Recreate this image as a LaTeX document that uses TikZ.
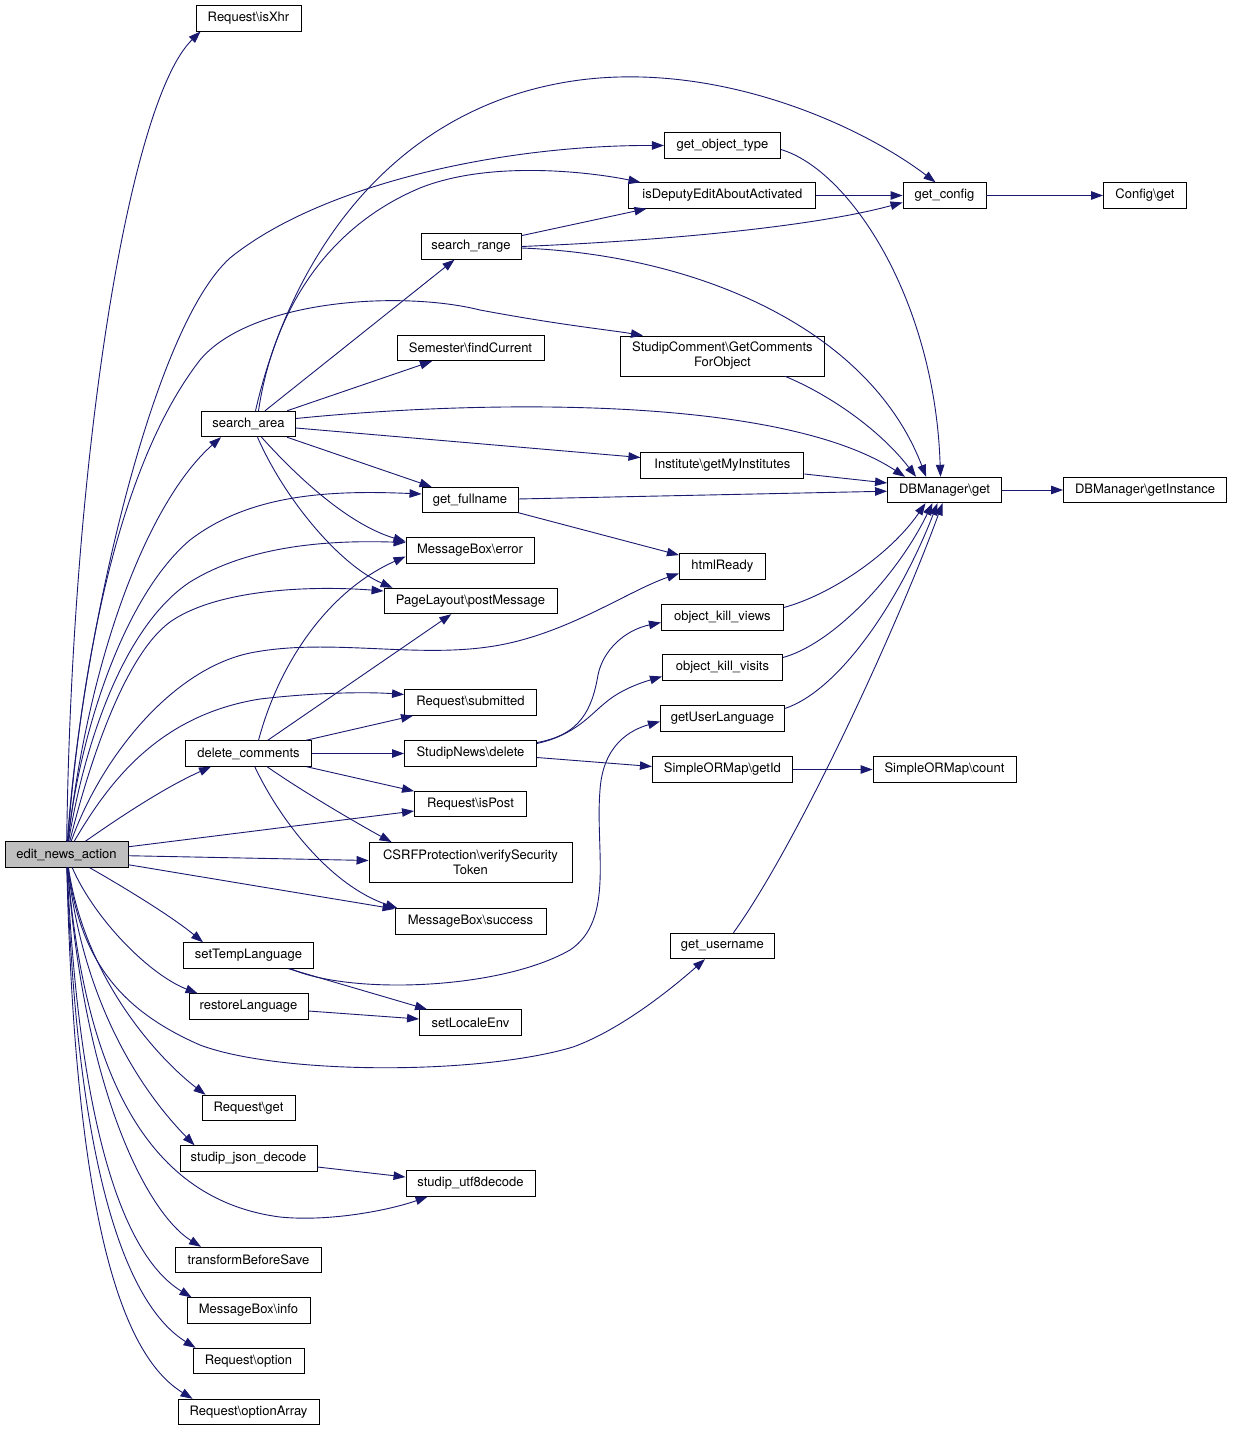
\documentclass[tikz,border=0pt]{standalone}
\usepackage{fontspec}
\setmainfont{TeX Gyre Heros}
\usetikzlibrary{arrows.meta}
\definecolor{edgeblue}{HTML}{191970}
\definecolor{nodegray}{HTML}{BFBFBF}
\begin{document}
\begin{tikzpicture}[x=1pt,y=-1pt,
  fn/.style={draw=black, line width=0.9pt, fill=white, inner sep=0pt,
    minimum height=25.5pt, font=\fontsize{13}{15}\selectfont, align=center},
  call/.style={draw=edgeblue, line width=0.9pt, -{Triangle[length=12pt,width=8.5pt]}},
]
\fill[white] (0,0) rectangle (1232,1431);
\useasboundingbox (0,0) rectangle (1232,1431);

% rank 1
\node[fn, fill=nodegray, minimum width=123pt] (E) at (66.5,854.5) {edit\_news\_action};
% rank 2
\node[fn, minimum width=105pt] (isXhr) at (248.5,18.3) {Request\textbackslash isXhr};
\node[fn, minimum width=94pt]  (S)   at (248.5,424) {search\_area};
\node[fn, minimum width=126pt] (D)   at (248.5,753.5) {delete\_comments};
\node[fn, minimum width=130pt] (ST)  at (248.5,955.5) {setTempLanguage};
\node[fn, minimum width=119pt] (RL)  at (248.5,1006.5) {restoreLanguage};
\node[fn, minimum width=93pt]  (RG)  at (248.5,1108) {Request\textbackslash get};
\node[fn, minimum width=137pt] (JD)  at (248.5,1158.5) {studip\_json\_decode};
\node[fn, minimum width=146pt] (TB)  at (248.5,1260) {transformBeforeSave};
\node[fn, minimum width=123pt] (MI)  at (248.5,1310.5) {MessageBox\textbackslash info};
\node[fn, minimum width=111pt] (RO)  at (248.5,1361) {Request\textbackslash option};
\node[fn, minimum width=141pt] (ROA) at (248.5,1412) {Request\textbackslash optionArray};
% rank 3
\node[fn, minimum width=100pt] (SR)   at (471,246.5) {search\_range};
\node[fn, minimum width=147pt] (SEM)  at (470.5,348) {Semester\textbackslash findCurrent};
\node[fn, minimum width=96pt]  (GF)   at (470,500) {get\_fullname};
\node[fn, minimum width=128pt] (MBE)  at (470,550.5) {MessageBox\textbackslash error};
\node[fn, minimum width=173pt] (PL)   at (470.5,601) {PageLayout\textbackslash postMessage};
\node[fn, minimum width=132pt] (RS)   at (470.5,702.5) {Request\textbackslash submitted};
\node[fn, minimum width=132pt] (SN)   at (470.5,753.5) {StudipNews\textbackslash delete};
\node[fn, minimum width=112pt] (RP)   at (470.5,804) {Request\textbackslash isPost};
\node[fn, minimum width=203pt, minimum height=40pt] (CSRF) at (470.5,862.5) {CSRFProtection\textbackslash verifySecurity\\Token};
\node[fn, minimum width=151pt] (MBS)  at (470.5,921.5) {MessageBox\textbackslash success};
\node[fn, minimum width=102pt] (SLE)  at (470.5,1022.5) {setLocaleEnv};
\node[fn, minimum width=129pt] (UTF)  at (470.5,1183.5) {studip\_utf8decode};
% rank 4
\node[fn, minimum width=116pt] (GOT)  at (722.4,145.5) {get\_object\_type};
\node[fn, minimum width=187pt] (ISD)  at (722.4,195.5) {isDeputyEditAboutActivated};
\node[fn, minimum width=204pt, minimum height=40pt] (SCGC) at (722.4,356) {StudipComment\textbackslash GetComments\\ForObject};
\node[fn, minimum width=163pt] (INST) at (722.4,465.5) {Institute\textbackslash getMyInstitutes};
\node[fn, minimum width=86pt]  (HTML) at (722.4,566.5) {htmlReady};
\node[fn, minimum width=122pt] (OKV)  at (722.4,617.5) {object\_kill\_views};
\node[fn, minimum width=120pt] (OKVI) at (722.4,667.5) {object\_kill\_visits};
\node[fn, minimum width=124pt] (GUL)  at (722.4,718.5) {getUserLanguage};
\node[fn, minimum width=140pt] (SOG)  at (722.4,769.5) {SimpleORMap\textbackslash getId};
\node[fn, minimum width=104pt] (GUN)  at (722.4,946) {get\_username};
% rank 5
\node[fn, minimum width=83pt]  (GCFG) at (944.5,195.5) {get\_config};
\node[fn, minimum width=114pt] (DBG)  at (944.5,490) {DBManager\textbackslash get};
\node[fn, minimum width=143pt] (SOC)  at (944.5,769.5) {SimpleORMap\textbackslash count};
% rank 6
\node[fn, minimum width=83pt]  (CFG)  at (1145,195.5) {Config\textbackslash get};
\node[fn, minimum width=163pt] (DBI)  at (1145,490) {DBManager\textbackslash getInstance};

% edges from edit_news_action
\draw[call] (E) .. controls (72,450) and (130,100) .. ([xshift=5pt]isXhr.south west);
\draw[call] (E) .. controls (80,650) and (150,330) .. (230,258) .. controls (320,185) and (500,145) .. (GOT.west);
\draw[call] (E) .. controls (85,620) and (130,450) .. (200,360) .. controls (250,300) and (400,290) .. (480,310) .. controls (560,325) and (610,330) .. ([xshift=23pt]SCGC.north west);
\draw[call] (E) .. controls (90,650) and (150,500) .. ([xshift=20pt]S.south west);
\draw[call] (E) .. controls (80,730) and (125,595) .. (190,540) .. controls (250,494) and (330,490) .. ([yshift=6pt]GF.west);
\draw[call] (E) .. controls (85,740) and (125,625) .. (190,582) .. controls (250,545) and (330,540) .. ([yshift=8pt]MBE.west);
\draw[call] (E) .. controls (90,760) and (125,655) .. (170,622) .. controls (220,587) and (320,586) .. ([yshift=10pt]PL.west);
\draw[call] (E) .. controls (100,760) and (170,670) .. (250,653) .. controls (330,637) and (420,660) .. (500,645) .. controls (570,632) and (630,590) .. ([yshift=-7pt]HTML.west);
\draw[call] (E) .. controls (110,780) and (160,715) .. (260,699) .. controls (320,692) and (370,692) .. ([yshift=8pt]RS.west);
\draw[call] (E) .. controls (130,810) and (170,785) .. ([xshift=26pt]D.south west);
\draw[call] (E) -- (RP);
\draw[call] (E) -- (CSRF);
\draw[call] (E) -- (MBS);
\draw[call] (E) .. controls (120,885) and (170,915) .. ([xshift=20pt]ST.north west);
\draw[call] (E) .. controls (95,920) and (150,975) .. ([xshift=9pt]RL.north west);
\draw[call] (E) .. controls (80,960) and (120,1010) .. (200,1045) .. controls (280,1075) and (480,1075) .. (573,1047) .. controls (620,1030) and (670,990) .. ([xshift=35pt]GUN.south west);
\draw[call] (E) .. controls (85,980) and (160,1060) .. ([xshift=4pt]RG.north west);
\draw[call] (E) .. controls (85,1020) and (155,1105) .. ([xshift=15pt]JD.north west);
\draw[call] (E) .. controls (85,1080) and (150,1200) .. (280,1217) .. controls (330,1222) and (390,1210) .. ([xshift=22pt]UTF.south west);
\draw[call] (E) .. controls (85,1100) and (150,1215) .. ([xshift=26pt]TB.north west);
\draw[call] (E) .. controls (80,1150) and (130,1260) .. ([xshift=5pt]MI.north west);
\draw[call] (E) .. controls (78,1200) and (135,1310) .. ([xshift=3pt]RO.north west);
\draw[call] (E) .. controls (76,1250) and (130,1360) .. ([xshift=15pt]ROA.north west);

% edges from search_area
\draw[call] ([xshift=7pt]S.north) .. controls (290,260) and (390,105) .. (580,80) .. controls (720,62) and (860,125) .. ([xshift=-9pt]GCFG.north);
\draw[call] ([xshift=10pt]S.north) .. controls (272,320) and (320,230) .. (420,188) .. controls (490,160) and (590,172) .. ([xshift=12pt]ISD.north west);
\draw[call] (S) -- (SR);
\draw[call] (S) -- (SEM);
\draw[call] ([yshift=5.5pt]S.east) .. controls (480,400) and (780,395) .. ([xshift=18pt]DBG.north west);
\draw[call] ([yshift=-4pt]S.east) -- ([yshift=8pt]INST.west);
\draw[call] (S) -- (GF);
\draw[call] ([xshift=13pt]S.south) .. controls (300,480) and (350,525) .. ([yshift=9pt]MBE.west);
\draw[call] ([xshift=9pt]S.south) .. controls (285,500) and (340,565) .. ([xshift=9pt]PL.north west);

% edges from search_range
\draw[call] (SR) -- ([xshift=18pt]ISD.south west);
\draw[call] (SR.east) .. controls (680,240) and (820,225) .. ([yshift=-7pt]GCFG.west);
\draw[call] ([yshift=-1.5pt]SR.east) .. controls (700,255) and (870,330) .. ([xshift=39pt]DBG.north west);

% rank 4/5 edges
\draw[call] ([yshift=-4pt]GOT.east) .. controls (850,170) and (935,300) .. ([xshift=-4pt]DBG.north);
\draw[call] ([xshift=63pt]SCGC.south) .. controls (830,395) and (880,430) .. ([xshift=29pt]DBG.north west);
\draw[call] ([yshift=-8.5pt]INST.east) -- ([yshift=7pt]DBG.west);
\draw[call] (GF) -- (DBG);
\draw[call] (GF) -- (HTML);
\draw[call] (ISD) -- (GCFG);
\draw[call] (GCFG) -- (CFG);
\draw[call] (DBG) -- (DBI);
\draw[call] ([yshift=10pt]OKV.east) .. controls (830,595) and (890,555) .. ([xshift=-19pt]DBG.south);
\draw[call] ([yshift=10pt]OKVI.east) .. controls (830,645) and (895,580) .. ([xshift=-12pt]DBG.south);
\draw[call] ([yshift=10pt]GUL.east) .. controls (840,690) and (900,600) .. ([xshift=-7pt]DBG.south);
\draw[call] ([xshift=11pt]GUN.north) .. controls (800,840) and (900,620) .. ([xshift=-2pt]DBG.south);

% edges from delete_comments
\draw[call] ([xshift=10pt]D.north) .. controls (280,660) and (330,590) .. ([yshift=-6pt]MBE.west);
\draw[call] (D) -- (PL);
\draw[call] (D) -- (RS);
\draw[call] (D) -- (SN);
\draw[call] (D) -- (RP);
\draw[call] (D) .. controls (300,790) and (360,825) .. ([xshift=23pt]CSRF.north west);
\draw[call] (D) .. controls (280,820) and (330,885) .. ([xshift=3pt]MBS.north west);

% edges from StudipNews\delete
\draw[call] ([yshift=11pt]SN.east) .. controls (580,735) and (592,710) .. (598,675) .. controls (603,650) and (625,630) .. ([yshift=-5pt]OKV.west);
\draw[call] ([yshift=10pt]SN.east) .. controls (575,735) and (590,715) .. (605,703) .. controls (620,690) and (640,683) .. ([yshift=-9pt]OKVI.west);
\draw[call] ([yshift=-4pt]SN.east) -- ([yshift=3pt]SOG.west);
\draw[call] (SOG) -- (SOC);

% language edges
\draw[call] ([xshift=42pt]ST.south) .. controls (350,995) and (500,990) .. (570,950) .. controls (615,920) and (595,850) .. (600,790) .. controls (603,745) and (630,730) .. ([yshift=-3pt]GUL.west);
\draw[call] ([xshift=40pt]ST.south) -- ([xshift=8pt]SLE.north west);
\draw[call] ([yshift=-4.5pt]RL.east) -- ([yshift=3.5pt]SLE.west);
\draw[call] ([yshift=-8.5pt]JD.east) -- ([yshift=6.5pt]UTF.west);
\end{tikzpicture}
\end{document}
